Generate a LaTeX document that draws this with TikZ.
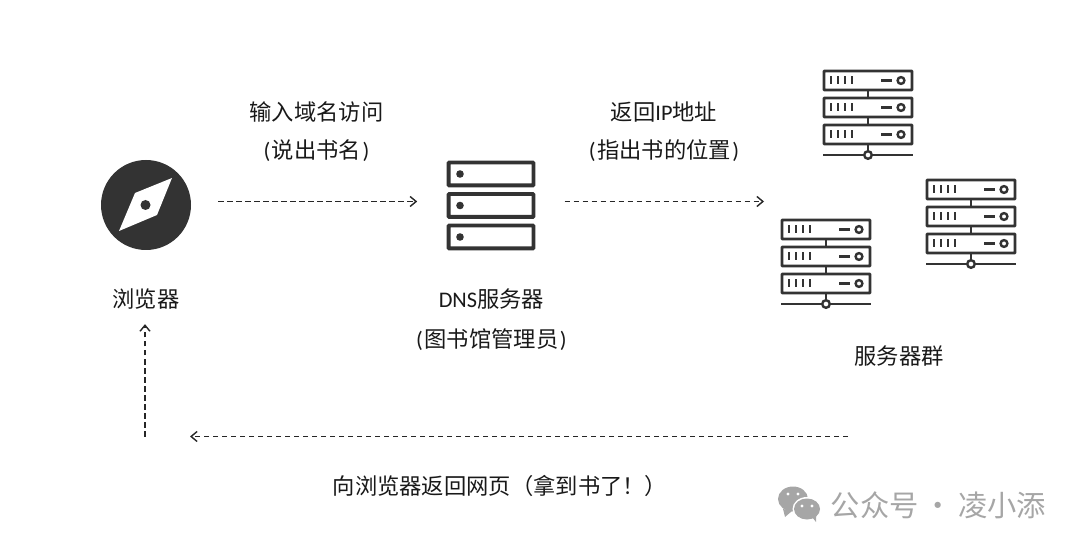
\documentclass[tikz,border=0pt]{standalone}
\usepackage{fontspec}
\setmainfont{Noto Sans CJK SC}
\newfontfamily\latin{Carlito}
\newcommand{\lp}{{\latin (}\hspace{1.5pt}}
\newcommand{\rp}{\hspace{1.5pt}{\latin )}}
\usetikzlibrary{arrows.meta,positioning}
\definecolor{ink}{HTML}{333333}
\definecolor{wmgrey}{HTML}{A6A6A6}
\tikzset{
	caption/.style={inner sep=0pt,text=black!90,font=\fontsize{22.3}{26}\selectfont},
	flow/.style={draw=black!85,line width=1.4pt,dash pattern=on 5.5pt off 3.5pt,-{Straight Barb[length=6pt,width=10pt]}},
	spot/.style={inner sep=0pt,minimum width=90pt,minimum height=90pt},
	rack/.pic={
		\foreach \y in {0,27,54} {
			\draw[ink,line width=2.7pt,rounded corners=.5pt] (1,1+\y) rectangle (89,20+\y);
			\foreach \x in {8,15,22,29} \draw[ink,line width=2.3pt] (\x,6.5+\y) -- (\x,14.5+\y);
			\draw[ink,line width=2.3pt] (58,10.5+\y) -- (69,10.5+\y);
			\draw[ink,line width=2.4pt] (78,10.5+\y) circle (3.4);
		}
		\foreach \y in {20,47,74} \draw[ink,line width=2.5pt] (45,\y+1) -- (45,\y+7);
		\draw[ink,line width=2.6pt] (0,85) -- (90,85);
		\draw[ink,line width=2.4pt,fill=white] (45,85) circle (3.8);
	}
}
\begin{document}
\begin{tikzpicture}[x=1pt,y=-1pt]
	\useasboundingbox (0,0) rectangle (1080,548);
	% browser
	\node[spot,circle,fill=ink] (browser) at (146,205) {};
	\fill[white] (172,178) -- (157,215) -- (119,231) -- (135,193) -- cycle;
	\fill[ink] (145.5,205) circle (5);
	\node[caption] (browsername) [below=38pt of browser] {浏览器};
	% dns
	\node[spot] (dns) [right=255pt of browser] {};
	\foreach \y in {161,192.5,224} {
		\draw[ink,line width=3.8pt,rounded corners=.5pt] (448.6,\y+1.6) rectangle (533.4,\y+24.4);
		\fill[ink] (460,\y+13) circle (3.8);
	}
	\node[caption] (dnsname) [below=38pt of dns] {{\latin DNS}服务器};
	\node[caption] (dnsrole) [below=19pt of dnsname] {\lp 图书馆管理员\rp};
	% servers
	\pic at (823,70) {rack};
	\pic at (926,179) {rack};
	\pic at (781,219) {rack};
	\node[spot,minimum height=1pt,minimum width=1pt] (cluster) at (868,201) {};
	\node[caption] (clustername) at (899,356) {服务器群};
	% labels
	\node[caption] (asktop) at (316.5,112) {输入域名访问};
	\node[caption] (askbot) [below=17pt of asktop] {\lp 说出书名\rp};
	\node[caption] (iptop) at (664,112) {返回{\latin IP}地址};
	\node[caption] (ipbot) [below=17pt of iptop] {\lp 指出书的位置\rp};
	\node[caption] (backtext) at (500,486) {向浏览器返回网页（拿到书了！）};
	% connectors
	\coordinate (backend) at (848,436.5);
	\coordinate (corner) at (145,436.5);
	\draw[flow,shorten <=27pt,shorten >=29pt] ([yshift=3.5pt]browser.east) -- ([yshift=3.5pt]dns.west);
	\draw[flow,shorten <=28pt,shorten >=104pt] ([yshift=3.5pt]dns.east) -- (cluster.center |- {0,201.5});
	\draw[flow] (backend) -- ([xshift=45pt]corner);
	\draw[flow,shorten >=15pt] (corner) -- (browsername.south -| corner);
	% watermark
	\fill[wmgrey] (793,499) ellipse (15 and 12.5);
	\fill[wmgrey] (783,509) -- (785,517) -- (792,511) -- cycle;
	\fill[white] (807,509) ellipse (14.5 and 12);
	\fill[wmgrey] (807,509) ellipse (13 and 10.5);
	\fill[wmgrey] (812,517) -- (816,522) -- (816,515) -- cycle;
	\foreach \x/\y in {788/494,798/494,802/506,812/506} \fill[white] (\x,\y) circle (1.6);
	\node[inner sep=0pt,text=wmgrey,font=\fontsize{29.3}{32}\selectfont] (account) at (938.5,505) {公众号\hspace{5pt}·\hspace{5pt}凌小添};
\end{tikzpicture}
\end{document}
